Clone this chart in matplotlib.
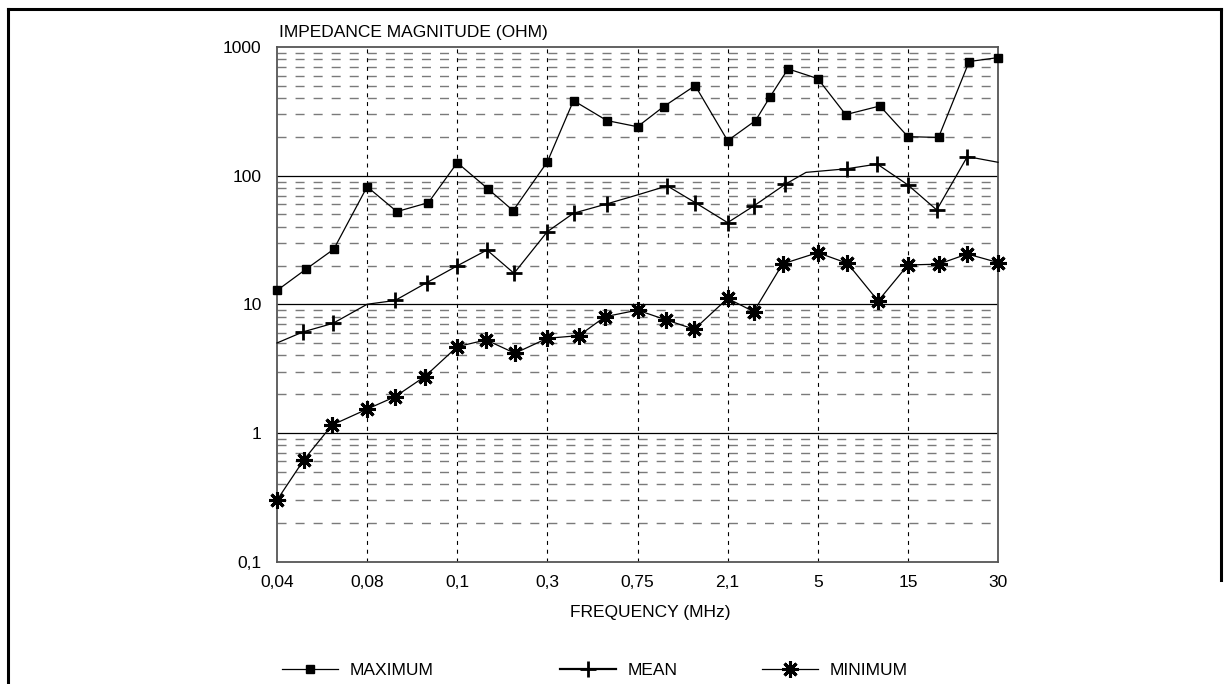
import numpy as np
import matplotlib
matplotlib.use('Agg')
import matplotlib.pyplot as plt
from matplotlib.lines import Line2D
from matplotlib.ticker import FixedLocator, NullFormatter

# category axis labels (frequency, MHz)
freq_labels = ['0,04', '0,08', '0,1', '0,3', '0,75', '2,1', '5', '15', '30']

# positions are fractional positions on the category axis
max_x = [0, 0.32, 0.63, 1, 1.33, 1.68, 2, 2.34, 2.62, 3, 3.29, 3.66, 4, 4.29, 4.64,
         5, 5.31, 5.47, 5.67, 6, 6.31, 6.69, 7, 7.34, 7.68, 8]
max_y = [12.8, 18.7, 26.8, 82, 52.5, 61.7, 126, 79, 53.4, 128, 383, 268, 240, 344, 501,
         187, 268, 409, 676, 568, 298, 348, 201, 198, 771, 827]

mean_x = [0, 0.29, 0.62, 1, 1.31, 1.66, 2, 2.33, 2.63, 3, 3.29, 3.66, 4, 4.33, 4.64,
          5, 5.29, 5.64, 5.87, 6.32, 6.66, 7, 7.32, 7.66, 8]
mean_y = [5.0, 6.1, 7.1, 10, 10.7, 14.7, 19.9, 26.4, 17.4, 36.7, 51, 60.3, 70.8, 83.2, 61.7,
          43.1, 58.1, 85.7, 106, 113, 123, 84.7, 54.1, 140.6, 127]
mean_marked = [1, 2, 4, 5, 6, 7, 8, 9, 10, 11, 13, 14, 15, 16, 17, 19, 20, 21, 22, 23]

min_x = [0, 0.3, 0.61, 1, 1.31, 1.64, 2, 2.32, 2.64, 3, 3.35, 3.64, 4, 4.32, 4.63,
         5, 5.29, 5.61, 6, 6.33, 6.67, 7, 7.34, 7.66, 8]
min_y = [0.3, 0.62, 1.15, 1.53, 1.91, 2.74, 4.68, 5.28, 4.16, 5.44, 5.7, 8.0, 9.0, 7.55, 6.39,
         11.1, 8.76, 20.6, 25.2, 20.8, 10.6, 20.2, 20.5, 24.6, 21.1]

plt.rcParams['font.family'] = ['Liberation Sans Narrow', 'Liberation Sans', 'DejaVu Sans']
plt.rcParams['font.size'] = 12.5

W, H = 1228, 684
fig = plt.figure(figsize=(W / 100, H / 100), dpi=100)
ax = fig.add_axes([277 / W, 1 - 561.5 / H, (998 - 277) / W, (561.5 - 47) / H])

ax.set_yscale('log')
ax.set_ylim(0.1, 1000)
ax.set_xlim(0, len(freq_labels) - 1)

# grid
for dec in [0.1, 1, 10, 100]:
    for m in range(2, 10):
        ax.axhline(dec * m, color='#7a7a7a', lw=1.0, dashes=(6.5, 6.5), zorder=1)
for dec in [1, 10, 100]:
    ax.axhline(dec, color='black', lw=0.9, zorder=1)
for i in range(1, len(freq_labels) - 1):
    ax.axvline(i, color='black', lw=0.8, dashes=(3.6, 4.3), zorder=1)

ax.plot(max_x, max_y, color='black', lw=0.9, marker='s', ms=5.5, clip_on=False, zorder=3)
ax.plot(mean_x, mean_y, color='black', lw=0.9, marker='+', ms=12, mew=2.0,
        markevery=mean_marked, clip_on=False, zorder=3)
ax.plot(min_x, min_y, color='black', lw=0.9, marker=(8, 2, 0), ms=12, mew=2.2,
        clip_on=False, zorder=3)

ax.set_xticks(range(len(freq_labels)))
ax.set_xticklabels(freq_labels)
ax.yaxis.set_major_locator(FixedLocator([0.1, 1, 10, 100, 1000]))
ax.yaxis.set_minor_locator(FixedLocator([]))
ax.yaxis.set_minor_formatter(NullFormatter())
ax.set_yticklabels(['0,1', '1', '10', '100', '1000'])
ax.tick_params(axis='x', length=0, pad=10)
ax.tick_params(axis='y', length=0, pad=11)

for s in ax.spines.values():
    s.set_color('#555555')
    s.set_linewidth(1.3)

fig.text(279 / W, 1 - 33 / H, 'IMPEDANCE MAGNITUDE (OHM)', ha='left', va='center')
fig.text(650 / W, 1 - 612 / H, 'FREQUENCY (MHz)', ha='center', va='center')

# legend, one entry each
entries = [
    ('MAXIMUM', dict(marker='s', ms=5.5, lw=0.9), 282),
    ('MEAN', dict(marker='+', ms=12, mew=2.0, lw=1.6), 560),
    ('MINIMUM', dict(marker=(8, 2, 0), ms=12, mew=2.2, lw=0.9), 762),
]
for label, kw, xpos in entries:
    h = Line2D([], [], color='black', **kw)
    fig.legend([h], [label], loc='center left', bbox_to_anchor=(xpos / W, 1 - 670 / H),
               frameon=False, borderpad=0, borderaxespad=0, handlelength=3.2,
               handletextpad=0.7, numpoints=1)

# page frame
fig.add_artist(Line2D([8 / W, 8 / W], [0, 1 - 9 / H], color='black', lw=2.2))
fig.add_artist(Line2D([8 / W, 1221 / W], [1 - 9 / H, 1 - 9 / H], color='black', lw=2.2))
fig.add_artist(Line2D([1221 / W, 1221 / W], [1 - 9 / H, 1 - 580 / H], color='black', lw=2.2))

fig.savefig('out.png', dpi=100)
